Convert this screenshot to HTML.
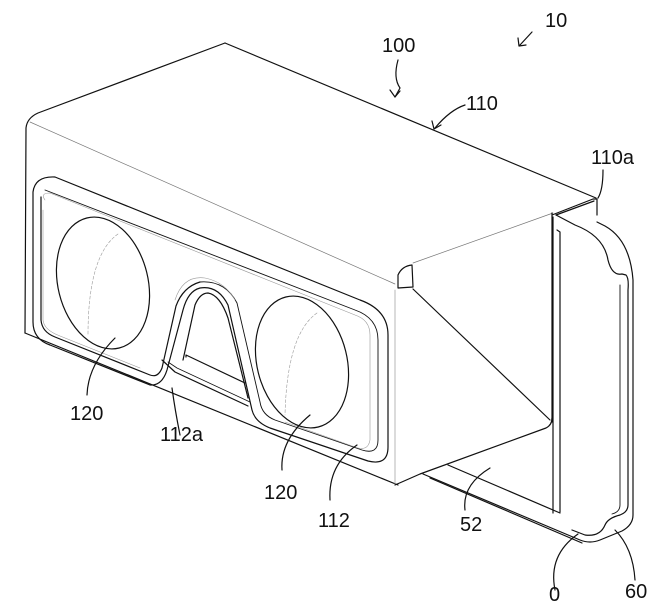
<!DOCTYPE html>
<html><head><meta charset="utf-8"><style>
html,body{margin:0;padding:0;background:#fff;}
svg{display:block}
text{font-family:"Liberation Sans Narrow","Liberation Sans",sans-serif;font-size:20px;fill:#111}
</style></head><body>
<svg width="671" height="616" viewBox="0 0 671 616" xmlns="http://www.w3.org/2000/svg">
<g fill="none" stroke="#111" stroke-width="1.2" stroke-linejoin="round" stroke-linecap="round">
<path d="M225,43 L596,198"/>
<path d="M225,43 L38,113 Q27,118 26,128 L25,333"/>
<path d="M25,333 L398,485"/>
<path d="M30,122 L395,284" stroke="#777" stroke-width="0.7"/>
<path d="M395,290 L395,485" stroke="#999" stroke-width="0.7"/>
<path d="M398,288 L398,275 Q402,266 412,265 L413,287 Z"/>
<path d="M413,263 L553,213" stroke="#777" stroke-width="0.7"/>
<path d="M413,289 L550,420"/>
<path d="M552,213 L552,422"/>
<path d="M395,485 L420,474 L546,428 Q552,425 552,418"/>
<path d="M552,215 L593,199 L597,199 L597,215"/>
<path d="M556,215 L594,201"/>
<path d="M553,217 L553,513"/>
<path d="M557,230 L560,232 L560,512"/>
<path d="M448,465 L560,513"/>
<path d="M423,474 L580,540 Q590,544 600,540 L622,531 Q633,525 633,515 L633,280 Q630,240 605,226 L597,222"/>
<path d="M430,478 L582,543" />
<path d="M556,215 L575,225 Q604,236 608,260 Q612,276 622,274 L626,275 Q629,278 628,290 L628,505 Q628,512 620,515 Q608,518 605,525 Q600,537 585,535 L572,530"/>
<path d="M620,285 L620,505 Q620,512 612,514" stroke-width="0.9"/>
<path d="M55,177 L360,300 Q388,310 388,335 L388,447 Q388,466 368,461 L270,428 Q255,422 252,410 L228,305 Q218,285 200,288 Q188,291 183,310 L167,370 Q162,386 150,385 L50,345 Q33,339 33,322 L33,192 Q35,176 55,177 Z"/>
<path d="M45,190 L355,310 Q378,318 378,340 L378,440 Q378,455 362,450 L275,420 Q262,415 260,402 L237,303 Q225,280 200,282" stroke-width="0.9"/>
<path d="M41,197 L41,320 Q42,332 55,337 L150,375 Q158,378 162,368 L176,306 Q183,287 200,282"/>
<path d="M45,200 Q40,193 50,193 L355,315 Q370,320 370,335 L370,440 Q368,452 355,447 L285,422" stroke="#999" stroke-width="0.6"/>
<path d="M43,210 L43,320 Q44,330 60,336 L140,368" stroke="#999" stroke-width="0.6"/>
<path d="M175,300 Q183,275 205,278 Q225,282 235,300" stroke="#999" stroke-width="0.6"/>
<path d="M183,360 L195,305 Q200,293 208,293 Q220,295 228,318 L248,398"/>
<path d="M186,357 L186,355 L245,383" />
<path d="M162,360 L175,372 L248,406"/>
<path d="M168,362 L177,368 L250,402" stroke-width="0.8"/>
<ellipse cx="103" cy="283" rx="45" ry="67" transform="rotate(-14 103 283)"/>
<ellipse cx="302" cy="362" rx="45" ry="67" transform="rotate(-14 302 362)"/>
<path d="M118,234 Q88,255 88,335" stroke="#999" stroke-width="0.6" stroke-dasharray="3,2"/>
<path d="M317,313 Q287,334 285,415" stroke="#999" stroke-width="0.6" stroke-dasharray="3,2"/>
<path d="M87,395 Q88,365 115,338"/>
<path d="M180,435 Q175,410 172,388"/>
<path d="M282,470 Q280,440 310,415"/>
<path d="M330,500 Q328,465 357,445"/>
<path d="M465,510 Q462,485 490,468"/>
<path d="M555,590 Q548,555 578,534"/>
<path d="M635,580 Q633,548 615,530"/>
<path d="M398,60 Q393,78 400,88 L395,97"/>
<path d="M390,90 L395,97 L400,91"/>
<path d="M465,105 Q450,110 435,128"/>
<path d="M432,121 L434,129 L441,125"/>
<path d="M603,170 Q603,190 598,198"/>
<path d="M532,32 L520,45"/>
<path d="M518,38 L519,46 L526,45"/>
</g>
<text x="382" y="52">100</text>
<text x="545" y="27">10</text>
<text x="466" y="110">110</text>
<text x="591" y="164">110a</text>
<text x="70" y="420">120</text>
<text x="160" y="441">112a</text>
<text x="264" y="499">120</text>
<text x="318" y="527">112</text>
<text x="460" y="531">52</text>
<text x="549" y="601">0</text>
<text x="625" y="598">60</text>
</svg>
</body></html>
